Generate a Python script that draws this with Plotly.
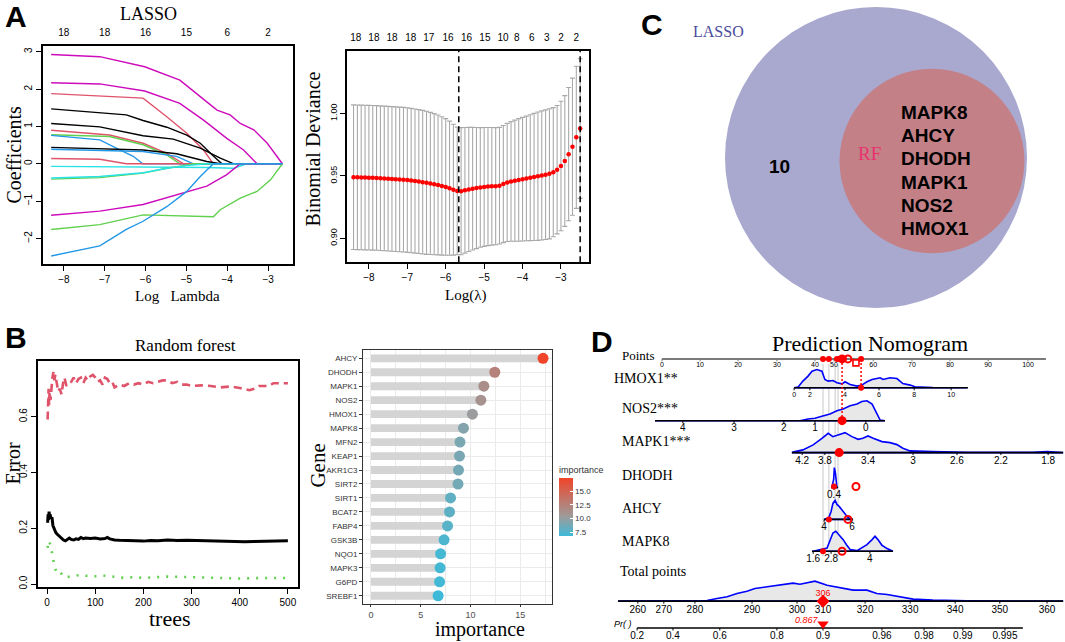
import plotly.graph_objects as go

W, H = 1065, 642
SERIF = "Liberation Serif, Times New Roman, serif"
SANS = "Liberation Sans, Arial, Helvetica, sans-serif"


def PX(x):
    return x / W


def PY(y):
    return 1 - y / H


# ================= Panel A (left): LASSO coefficient paths =================
LASSO_COLORS = ["#CD0BBC", "#CD0BBC", "#DF536B", "#000000", "#000000", "#DF536B",
                "#61D04F", "#2297E6", "#000000", "#2297E6", "#DF536B", "#28E2E5",
                "#61D04F", "#28E2E5", "#CD0BBC", "#61D04F", "#2297E6"]
LASSO_X = [
    [-8.31, -7.12, -6.02, -5.16, -4.66, -4.25, -3.93, -3.68, -3.35, -3.02, -2.65],
    [-8.31, -7.12, -6.02, -5.16, -4.58, -4.01, -3.60, -3.27, -2.65],
    [-8.31, -6.47, -6.06, -5.48, -4.99, -4.58, -4.34, -2.65],
    [-8.31, -6.47, -6.06, -5.48, -4.99, -4.66, -4.34, -4.13, -2.65],
    [-8.31, -7.12, -6.06, -5.32, -4.66, -4.17, -3.84, -2.65],
    [-8.31, -6.88, -6.06, -5.48, -5.07, -2.65],
    [-8.31, -6.88, -6.06, -5.48, -5.16, -2.65],
    [-8.31, -7.12, -6.63, -6.30, -6.07, -2.65],
    [-8.31, -6.06, -5.24, -4.50, -4.17, -2.65],
    [-8.31, -6.06, -5.24, -4.83, -2.65],
    [-8.31, -7.12, -6.47, -2.65],
    [-8.31, -6.00, -4.50, -3.84, -3.52, -2.65],
    [-8.31, -7.12, -6.06, -5.48, -5.07, -4.83, -2.65],
    [-8.31, -7.12, -6.06, -5.48, -4.99, -4.50, -2.65],
    [-8.31, -7.12, -6.06, -5.24, -4.50, -4.01, -3.68, -2.65],
    [-8.31, -7.12, -6.06, -5.24, -4.34, -4.17, -3.68, -3.27, -2.94, -2.65],
    [-8.31, -7.12, -6.47, -6.06, -5.48, -4.99, -4.66, -4.34, -2.65],
]
LASSO_Y = [
    [2.93, 2.87, 2.60, 2.24, 1.80, 1.44, 1.31, 1.08, 0.91, 0.55, 0.0],
    [2.17, 2.14, 1.95, 1.62, 1.17, 0.68, 0.37, 0.0, 0.0],
    [1.88, 1.78, 1.76, 1.26, 0.82, 0.37, 0.0, 0.0],
    [1.47, 1.31, 1.16, 0.98, 0.77, 0.55, 0.21, 0.0, 0.0],
    [1.08, 0.99, 0.75, 0.66, 0.42, 0.15, 0.0, 0.0],
    [0.90, 0.77, 0.55, 0.28, 0.0, 0.0],
    [0.78, 0.73, 0.51, 0.24, 0.0, 0.0],
    [0.76, 0.64, 0.37, 0.20, 0.0, 0.0],
    [0.44, 0.37, 0.27, 0.06, 0.0, 0.0],
    [0.39, 0.33, 0.20, 0.0, 0.0],
    [0.14, 0.12, 0.0, 0.0],
    [-0.07, -0.08, -0.10, -0.12, 0.0, 0.0],
    [-0.41, -0.37, -0.25, -0.12, -0.05, 0.0, 0.0],
    [-0.38, -0.34, -0.24, -0.12, -0.05, 0.0, 0.0],
    [-1.38, -1.27, -1.09, -0.83, -0.60, -0.29, 0.0, 0.0],
    [-1.76, -1.63, -1.37, -1.39, -1.42, -1.23, -0.92, -0.74, -0.43, 0.0],
    [-2.47, -2.20, -1.76, -1.54, -1.15, -0.74, -0.34, 0.0, 0.0],
]
LASSO_TICKS = [-8, -7, -6, -5, -4, -3]
LASSO_TOP_POS = [-8, -7, -6, -5, -4, -3]
LASSO_TOP_LAB = ["18", "18", "16", "15", "6", "2"]

# ================= Panel A (right): cross-validation =================
CV_LOGLAMBDA = [-8.4, -8.3, -8.2, -8.1, -8.0, -7.9, -7.8, -7.7, -7.6, -7.5,
                -7.4, -7.3, -7.2, -7.1, -7.0, -6.9, -6.8, -6.7, -6.6, -6.5,
                -6.4, -6.3, -6.2, -6.1, -6.0, -5.9, -5.8, -5.7, -5.6, -5.5,
                -5.4, -5.3, -5.2, -5.1, -5.0, -4.9, -4.8, -4.7, -4.6, -4.5,
                -4.4, -4.3, -4.2, -4.1, -4.0, -3.9, -3.8, -3.7, -3.6, -3.5,
                -3.4, -3.3, -3.2, -3.1, -3.0, -2.9, -2.8, -2.7, -2.6, -2.5]
CV_MEAN = [0.9490, 0.9489, 0.9488, 0.9487, 0.9486, 0.9485, 0.9484, 0.9482, 0.9480, 0.9478,
           0.9476, 0.9474, 0.9472, 0.9470, 0.9467, 0.9463, 0.9459, 0.9455, 0.9450, 0.9445,
           0.9440, 0.9434, 0.9428, 0.9420, 0.9412, 0.9402, 0.9390, 0.9380, 0.9378, 0.9385,
           0.9392, 0.9398, 0.9403, 0.9408, 0.9412, 0.9415, 0.9417, 0.9418, 0.9422, 0.9435,
           0.9448, 0.9456, 0.9462, 0.9468, 0.9474, 0.9480, 0.9486, 0.9492, 0.9498, 0.9504,
           0.9510, 0.9517, 0.9530, 0.9550, 0.9580, 0.9620, 0.9675, 0.9735, 0.9810, 0.9880]
CV_SE = [0.0580, 0.0580, 0.0580, 0.0580, 0.0580, 0.0580, 0.0580, 0.0580, 0.0580, 0.0580,
         0.0580, 0.0580, 0.0580, 0.0580, 0.0580, 0.0579, 0.0578, 0.0577, 0.0576, 0.0574,
         0.0570, 0.0566, 0.0561, 0.0555, 0.0548, 0.0538, 0.0525, 0.0512, 0.0510, 0.0504,
         0.0498, 0.0492, 0.0486, 0.0480, 0.0477, 0.0474, 0.0472, 0.0470, 0.0468, 0.0470,
         0.0474, 0.0480, 0.0486, 0.0492, 0.0496, 0.0500, 0.0505, 0.0510, 0.0515, 0.0518,
         0.0520, 0.0522, 0.0518, 0.0515, 0.0520, 0.0525, 0.0535, 0.0550, 0.0570, 0.0560]
CV_TICKS_X = [-8, -7, -6, -5, -4, -3]
CV_TICKS_Y = [0.90, 0.95, 1.00]
CV_TOP_POS = [-8.34, -7.87, -7.40, -6.91, -6.44, -5.94, -5.46, -4.98, -4.51, -4.15, -3.76, -3.37, -3.00, -2.60]
CV_TOP_LAB = ["18", "18", "18", "18", "17", "16", "16", "15", "10", "8", "6", "3", "2", "2"]
LAMBDA_MIN = -5.66
LAMBDA_1SE = -2.50

# ================= Panel B (left): random forest error =================
RF_TREES_OOB = [1, 2, 3, 4, 5, 6, 8, 10, 12, 14, 16, 18, 20, 23, 26, 30, 34, 38, 42, 46, 50, 55, 60,
                65, 70, 75, 80, 90, 100, 110, 120, 125, 130, 140, 150, 160, 175, 190, 200, 215,
                230, 250, 270, 290, 310, 330, 350, 370, 390, 410, 430, 450, 470, 490, 500]
RF_OOB = [0.22, 0.25, 0.23, 0.26, 0.24, 0.25, 0.235, 0.24, 0.21, 0.20, 0.195, 0.185, 0.18, 0.175,
          0.17, 0.165, 0.158, 0.155, 0.16, 0.165, 0.16, 0.158, 0.162, 0.16, 0.167, 0.163, 0.165,
          0.163, 0.165, 0.162, 0.163, 0.167, 0.162, 0.158, 0.157, 0.156, 0.157, 0.155, 0.154,
          0.156, 0.155, 0.158, 0.156, 0.157, 0.156, 0.155, 0.154, 0.153, 0.153, 0.152, 0.153,
          0.154, 0.155, 0.155, 0.155]
RF_TREES_C1 = [1, 2, 3, 4, 5, 7, 9, 11, 13, 15, 17, 20, 23, 26, 30, 33, 36, 40, 45, 50, 55, 60, 65,
               70, 75, 80, 85, 90, 95, 100, 105, 110, 115, 120, 125, 130, 135, 140, 150, 160, 170,
               180, 190, 200, 210, 220, 230, 240, 250, 260, 270, 280, 290, 300, 320, 340, 360, 380,
               400, 410, 420, 430, 440, 450, 460, 470, 480, 490, 500]
RF_C1 = [0.59, 0.66, 0.70, 0.64, 0.69, 0.66, 0.72, 0.74, 0.76, 0.73, 0.75, 0.71, 0.69, 0.70, 0.68,
         0.72, 0.74, 0.71, 0.72, 0.725, 0.74, 0.72, 0.735, 0.74, 0.72, 0.74, 0.73, 0.745, 0.75,
         0.74, 0.725, 0.73, 0.715, 0.74, 0.735, 0.72, 0.725, 0.705, 0.715, 0.71, 0.72, 0.715,
         0.72, 0.715, 0.725, 0.72, 0.725, 0.73, 0.73, 0.72, 0.725, 0.715, 0.715, 0.71, 0.712,
         0.71, 0.705, 0.708, 0.703, 0.70, 0.695, 0.70, 0.71, 0.71, 0.71, 0.72, 0.72, 0.72, 0.72]
RF_TREES_C2 = [1, 3, 5, 7, 9, 11, 13, 16, 19, 22, 26, 30, 35, 40, 50, 60, 70, 80, 90, 100, 120,
               140, 160, 180, 200, 250, 300, 350, 400, 450, 500]
RF_C2 = [0.13, 0.155, 0.15, 0.14, 0.125, 0.10, 0.08, 0.06, 0.045, 0.04, 0.045, 0.035, 0.025, 0.025,
         0.028, 0.03, 0.033, 0.03, 0.028, 0.028, 0.03, 0.025, 0.022, 0.025, 0.022, 0.027, 0.024,
         0.022, 0.02, 0.022, 0.022]
RF_TICKS_X = [0, 100, 200, 300, 400, 500]
RF_TICKS_Y = [0.0, 0.2, 0.4, 0.6]

# ================= Panel B (right): gene importance =================
GENES = ["AHCY", "DHODH", "MAPK1", "NOS2", "HMOX1", "MAPK8", "MFN2", "KEAP1", "AKR1C3",
         "SIRT2", "SIRT1", "BCAT2", "FABP4", "GSK3B", "NQO1", "MAPK3", "G6PD", "SREBF1"]
IMPORTANCE = [17.3, 12.45, 11.35, 11.05, 10.2, 9.3, 8.95, 8.9, 8.8, 8.75, 8.0, 7.9, 7.7, 7.35,
              7.0, 6.95, 6.9, 6.75]
IMP_TICKS = [0, 5, 10, 15]
IMP_CBAR_TICKS = [7.5, 10.0, 12.5, 15.0]

# ================= Panel C: Venn =================
VENN_LASSO_N = 16
VENN_RF_N = 6
VENN_ONLY_LASSO = "10"
VENN_SHARED = ["MAPK8", "AHCY", "DHODH", "MAPK1", "NOS2", "HMOX1"]

# ================= Panel D: nomogram =================
PTS_TICK_LAB = ["0", "10", "20", "30", "40", "50", "60", "70", "80", "90", "100"]
PTS_TICK_POS = [0, 10.4, 20.8, 31.4, 41.8, 47.0, 57.7, 68.3, 78.7, 89.1, 100]
HMOX1_TICK_LAB = ["0", "2", "4", "6", "8", "10"]
HMOX1_TICK_POS = [36.1, 40.4, 50.0, 59.3, 68.9, 79.0]
HMOX1_X = [36.1, 37.2, 38.5, 39.9, 41.0, 42.3, 43.7, 44.5, 45.4, 46.7, 47.8, 49.2, 50.0, 51.4,
           53.3, 54.6, 56.0, 57.4, 58.7, 59.6, 60.4, 62.3, 64.2, 65.8, 67.8, 69.1, 74.0, 83.3]
HMOX1_D = [0, 0.7, 6.7, 11.7, 16.7, 18.3, 16.7, 8.3, 6.7, 7.3, 5, 4, 6, 3.3, 1.7, 2.7, 6, 8.3,
           9.3, 10, 8.3, 10, 9.3, 4.3, 2.7, 1, 0.3, 0]
NOS2_TICK_LAB = ["4", "3", "2", "1", "0"]
NOS2_TICK_POS = [5.7, 19.7, 33.3, 41.8, 55.7]
NOS2_X = [-1.9, 37.7, 39.9, 41.8, 43.2, 45.9, 47.8, 49.5, 51.4, 53.3, 54.6, 56.0, 57.4, 58.7,
          59.6, 60.9]
NOS2_D = [0, 0, 1.7, 2.5, 4, 6.7, 10, 11.7, 15, 16.7, 19.3, 20, 16.7, 6.7, 0.7, 0]
MAPK1_TICK_LAB = ["4.2", "3.8", "3.4", "3", "2.6", "2.2", "1.8"]
MAPK1_TICK_POS = [38.3, 44.5, 56.3, 68.6, 80.6, 92.6, 105.5]
MAPK1_X = [35.5, 35.8, 38.5, 41.3, 43.7, 45.4, 46.7, 48.6, 50.0, 51.9, 53.6, 54.9, 56.3, 57.7,
           60.1, 62.3, 64.2, 65.8, 67.8, 74.0, 83.3, 101.4, 105.2, 109.6]
MAPK1_D = [0, 0.7, 2.7, 7.7, 14.3, 19.3, 16, 18.7, 20, 16, 13.3, 14.3, 16.7, 14.3, 11, 10, 8,
           4.3, 1.7, 1, 0.3, 0.3, 1, 0]
DHODH_TICK_LAB = ["0.4"]
DHODH_TICK_POS = [47.0]
DHODH_X = [46.2, 46.4, 46.9, 47.1, 47.4, 47.7, 47.8, 48.1]
DHODH_D = [0, 0, 8, 20, 14, 2, 0, 0]
AHCY_TICK_LAB = ["4", "6"]
AHCY_TICK_POS = [44.3, 51.9]
AHCY_X = [44.3, 45.6, 46.2, 46.7, 47.3, 47.8, 48.4, 49.2, 50.0, 50.8, 51.9, 52.2]
AHCY_D = [0, 2, 8, 16, 19, 15, 13, 9, 5, 2, 0, 0]
MAPK8_TICK_LAB = ["1.6", "2.8", "4"]
MAPK8_TICK_POS = [41.3, 46.2, 56.8]
MAPK8_X = [41.0, 41.3, 45.1, 45.9, 46.7, 47.5, 48.6, 49.5, 50.5, 51.4, 53.3, 54.6, 56.0, 57.4,
           58.2, 59.0, 60.1, 61.5, 63.1]
MAPK8_D = [0, 0, 3.3, 10, 18.3, 20, 16, 11.7, 6, 1.7, 0.7, 4, 6.7, 11.7, 15, 11.7, 6, 2.7, 0.3]
TOTAL_TICK_LAB = ["260", "270", "280", "290", "300", "310", "320", "330", "340", "350", "360"]
TOTAL_TICK_POS = [-6.6, 0.5, 9.0, 24.6, 36.9, 44.0, 55.5, 67.8, 80.1, 92.3, 105.2]
TOTAL_X = [-12.0, -3.3, 3.0, 12.3, 15.0, 17.8, 20.5, 23.2, 25.4, 28.7, 32.2, 35.8, 37.7, 40.4,
           41.8, 45.1, 48.6, 52.2, 56.0, 58.7, 61.5, 65.0, 68.6, 74.0, 83.3, 101.4, 109.6]
TOTAL_D = [0, 0, 0.7, 0.7, 2.7, 4.3, 7.7, 10, 12.7, 14.3, 16, 18, 17, 19.3, 20, 16, 13.7, 11, 11,
           7.7, 6.7, 4.3, 2, 1, 0.3, 0, 0]
PR_TICK_LAB = ["0.2", "0.4", "0.6", "0.8", "0.9", "0.96", "0.98", "0.99", "0.995"]
PR_TICK_POS = [-6.8, 3.0, 15.8, 31.4, 44.0, 60.1, 71.6, 82.2, 93.7]
# observed case (red)
CASE_PTS_DOTS = [44.0, 45.6, 47.8, 48.6, 49.7, 54.4]
CASE_HMOX1 = 54.4
CASE_NOS2 = 49.2
CASE_MAPK1 = 48.4
CASE_DHODH = 47.0
CASE_AHCY = 45.6
CASE_MAPK8 = 44.0
CASE_OPEN = [50.8, 53.0, 50.8, 49.2]
CASE_TOTAL = 44.0
CASE_TOTAL_LAB = "306"
CASE_PR_LAB = "0.867"
GUIDE_LINES = [44.0, 45.6, 47.3, 48.1]

# ---------------- figure ----------------
fig = go.Figure()
NOHOVER = dict(hoverinfo="skip", showlegend=False)

# A-left
for c, xs, ys in zip(LASSO_COLORS, LASSO_X, LASSO_Y):
    fig.add_trace(go.Scatter(x=xs, y=ys, mode="lines", line=dict(color=c, width=1.4),
                             xaxis="x", yaxis="y", **NOHOVER))
fig.add_trace(go.Scatter(x=[-8], y=[0], mode="markers", marker=dict(opacity=0),
                         xaxis="x2", yaxis="y", **NOHOVER))

# A-right
fig.add_trace(go.Scatter(x=CV_LOGLAMBDA, y=CV_MEAN, mode="markers",
                         marker=dict(color="#FF0000", size=4.5),
                         error_y=dict(type="data", array=CV_SE, color="#A9A9A9",
                                      thickness=1.1, width=2.5),
                         xaxis="x3", yaxis="y3", **NOHOVER))
fig.add_trace(go.Scatter(x=[-8], y=[0.95], mode="markers", marker=dict(opacity=0),
                         xaxis="x4", yaxis="y3", **NOHOVER))

# B-left
fig.add_trace(go.Scatter(x=RF_TREES_OOB, y=RF_OOB, mode="lines",
                         line=dict(color="black", width=3), xaxis="x5", yaxis="y5", **NOHOVER))
fig.add_trace(go.Scatter(x=RF_TREES_C1, y=RF_C1, mode="lines",
                         line=dict(color="#DF536B", width=2.6, dash="8px,5px"),
                         xaxis="x5", yaxis="y5", **NOHOVER))
fig.add_trace(go.Scatter(x=RF_TREES_C2, y=RF_C2, mode="lines",
                         line=dict(color="#61D04F", width=2.6, dash="2px,7px"),
                         xaxis="x5", yaxis="y5", **NOHOVER))

# B-right
fig.add_trace(go.Bar(x=IMPORTANCE, y=GENES, orientation="h", width=0.56,
                     marker=dict(color="#D4D4D4", line=dict(width=0)),
                     xaxis="x6", yaxis="y6", **NOHOVER))
fig.add_trace(go.Scatter(
    x=IMPORTANCE, y=GENES, mode="markers", xaxis="x6", yaxis="y6",
    marker=dict(size=11, color=IMPORTANCE, cmin=min(IMPORTANCE), cmax=max(IMPORTANCE),
                colorscale=[[0, "#3EBAD8"], [0.33, "#9C9C9C"], [1, "#F0452A"]],
                colorbar=dict(x=PX(559), xanchor="left", y=PY(501.5), yanchor="middle",
                              len=73 / H, thickness=14, outlinewidth=0, xpad=0, ypad=0,
                              tickvals=IMP_CBAR_TICKS, ticktext=[f"{v:.1f}" for v in IMP_CBAR_TICKS],
                              ticks="inside", tickcolor="white", ticklen=3,
                              tickfont=dict(family=SANS, size=8, color="#333333"),
                              title=dict(text="importance", side="top",
                                         font=dict(family=SANS, size=9, color="#333333")))),
    **NOHOVER))

# D: nomogram
ROW_Y = {"points": 360, "HMOX1": 389, "NOS2": 422, "MAPK1": 454, "DHODH": 489,
         "AHCY": 521, "MAPK8": 553, "total": 603, "pr": 630}


def dtr(**kw):
    fig.add_trace(go.Scatter(xaxis="x8", yaxis="y8", **NOHOVER, **kw))


# grey guide lines
gx, gy = [], []
for g in GUIDE_LINES:
    gx += [g, g, None]
    gy += [365, 558, None]
dtr(x=gx, y=gy, mode="lines", line=dict(color="#C8C8C8", width=1))


def density(xs, ds, base):
    ys = [base - d for d in ds]
    dtr(x=xs + [xs[-1], xs[0]], y=ys + [base, base], mode="lines", fill="toself",
        fillcolor="#E8E8E8", line=dict(color="#0000FF", width=1.6))


def row_axis(x0, x1, base, tpos, tlab, fs, off, color="black", lw=1.6):
    dtr(x=[x0, x1], y=[base, base], mode="lines", line=dict(color=color, width=lw))
    tx, ty = [], []
    for t in tpos:
        tx += [t, t, None]
        ty += [base, base + 2.5, None]
    dtr(x=tx, y=ty, mode="lines", line=dict(color=color, width=1))
    dtr(x=tpos, y=[base + off] * len(tpos), mode="text", text=tlab,
        textfont=dict(family=SANS, size=fs, color="black"))


density(HMOX1_X, HMOX1_D, ROW_Y["HMOX1"])
density(NOS2_X, NOS2_D, ROW_Y["NOS2"])
density(MAPK1_X, MAPK1_D, ROW_Y["MAPK1"])
density(DHODH_X, DHODH_D, ROW_Y["DHODH"])
density(AHCY_X, AHCY_D, ROW_Y["AHCY"])
density(MAPK8_X, MAPK8_D, ROW_Y["MAPK8"])
density(TOTAL_X, TOTAL_D, ROW_Y["total"])

row_axis(0, 104.9, ROW_Y["points"], PTS_TICK_POS, PTS_TICK_LAB, 7, 6.5, color="#7A7A7A", lw=2)
row_axis(36.1, 83.6, ROW_Y["HMOX1"], HMOX1_TICK_POS, HMOX1_TICK_LAB, 7, 7)
row_axis(-1.9, 60.9, ROW_Y["NOS2"], NOS2_TICK_POS, NOS2_TICK_LAB, 10, 7.5)
row_axis(35.5, 109.6, ROW_Y["MAPK1"], MAPK1_TICK_POS, MAPK1_TICK_LAB, 10, 9)
row_axis(46.2, 48.1, ROW_Y["DHODH"], DHODH_TICK_POS, DHODH_TICK_LAB, 10, 8)
row_axis(44.3, 52.2, ROW_Y["AHCY"], AHCY_TICK_POS, AHCY_TICK_LAB, 10, 8)
row_axis(41.0, 63.1, ROW_Y["MAPK8"], MAPK8_TICK_POS, MAPK8_TICK_LAB, 10, 8)
row_axis(-12.0, 109.6, ROW_Y["total"], TOTAL_TICK_POS, TOTAL_TICK_LAB, 10, 9.5)
row_axis(-6.8, 98.6, ROW_Y["pr"], PR_TICK_POS, PR_TICK_LAB, 10, 8.5)

# red case markers
dtr(x=[CASE_NOS2, CASE_NOS2, None, CASE_HMOX1, CASE_HMOX1],
    y=[ROW_Y["points"], ROW_Y["NOS2"], None, ROW_Y["points"], ROW_Y["HMOX1"]],
    mode="lines", line=dict(color="#FF0000", width=1.5, dash="2px,2px"))
dtr(x=CASE_PTS_DOTS, y=[ROW_Y["points"]] * len(CASE_PTS_DOTS), mode="markers",
    marker=dict(color="#FF0000", size=6))
dtr(x=[CASE_NOS2], y=[ROW_Y["points"]], mode="markers", marker=dict(color="#FF0000", size=9))
dtr(x=[CASE_HMOX1, CASE_DHODH, CASE_AHCY, CASE_MAPK8],
    y=[ROW_Y["HMOX1"], ROW_Y["DHODH"] - 1, ROW_Y["AHCY"], ROW_Y["MAPK8"]],
    mode="markers", marker=dict(color="#FF0000", size=6))
dtr(x=[CASE_NOS2, CASE_MAPK1], y=[ROW_Y["NOS2"], ROW_Y["MAPK1"]], mode="markers",
    marker=dict(color="#FF0000", size=9))
dtr(x=CASE_OPEN, y=[ROW_Y["points"], ROW_Y["DHODH"] - 1, ROW_Y["AHCY"], ROW_Y["MAPK8"]],
    mode="markers", marker=dict(symbol="circle-open", color="#FF0000", size=7,
                                line=dict(width=2, color="#FF0000")))
dtr(x=[53.0], y=[ROW_Y["points"] + 4], mode="markers",
    marker=dict(symbol="square-open", color="#FF0000", size=6, line=dict(width=1.6, color="#FF0000")))
dtr(x=[CASE_TOTAL], y=[ROW_Y["total"]], mode="markers",
    marker=dict(symbol="diamond", color="#FF0000", size=10))
dtr(x=[CASE_TOTAL], y=[ROW_Y["total"] - 7], mode="text", text=[CASE_TOTAL_LAB],
    textfont=dict(family=SANS, size=9, color="#FF0000"))
dtr(x=[CASE_TOTAL], y=[ROW_Y["pr"] - 4], mode="markers",
    marker=dict(symbol="triangle-down", color="#FF0000", size=10))
dtr(x=[CASE_TOTAL - 1.5], y=[ROW_Y["pr"] - 7], mode="text", text=["<i>" + CASE_PR_LAB + "</i>"],
    textposition="middle left", textfont=dict(family=SANS, size=9, color="#FF0000"))

# ---------------- axes ----------------


def rax(domain, rng, tickvals, anchor, angle=0, size=10, ticktext=None):
    d = dict(domain=domain, range=rng, tickvals=tickvals, ticks="outside", ticklen=5,
             tickwidth=1, tickcolor="black", showline=True, mirror=True, linecolor="black",
             linewidth=1.5, showgrid=False, zeroline=False, anchor=anchor, tickangle=angle,
             tickfont=dict(family=SANS, size=size, color="black"))
    if ticktext is not None:
        d["ticktext"] = ticktext
    return d


def topax(over, rng, pos, lab):
    return dict(overlaying=over, side="top", range=rng, tickvals=pos, ticktext=lab,
                ticks="", showline=False, showgrid=False, zeroline=False,
                ticklabelstandoff=7, tickfont=dict(family=SANS, size=10, color="black"))


rng_a1 = [-8.51, -2.39]
rng_a2 = [-8.57, -2.27]
layout = dict(
    width=W, height=H, margin=dict(l=0, r=0, t=0, b=0),
    paper_bgcolor="white", plot_bgcolor="rgba(0,0,0,0)", showlegend=False,
    xaxis=rax([PX(43), PX(293)], rng_a1, LASSO_TICKS, "y"),
    yaxis=rax([PY(265), PY(46)], [-2.69, 3.16], [-2, -1, 0, 1, 2, 3], "x", angle=-90),
    xaxis2=dict(anchor="y", **topax("x", rng_a1, LASSO_TOP_POS, LASSO_TOP_LAB)),
    xaxis3=rax([PX(347), PX(589)], rng_a2, CV_TICKS_X, "y3"),
    yaxis3=rax([PY(263), PY(51)], [0.8808, 1.0504], CV_TICKS_Y, "x3", angle=-90, size=9,
               ticktext=["0.90", "0.95", "1.00"]),
    xaxis4=dict(anchor="y3", **topax("x3", rng_a2, CV_TOP_POS, CV_TOP_LAB)),
    xaxis5=rax([PX(38), PX(298)], [-19, 521], RF_TICKS_X, "y5"),
    yaxis5=rax([PY(589), PY(362)], [-0.011, 0.8], RF_TICKS_Y, "x5", angle=-90,
               ticktext=["0.0", "0.2", "0.4", "0.6"]),
    xaxis6=dict(domain=[PX(363), PX(552)], range=[-0.8, 18.2], anchor="y6",
                tickvals=IMP_TICKS, ticks="outside", ticklen=2, tickcolor="#333333",
                showline=True, mirror=True, linecolor="#333333", linewidth=1,
                showgrid=True, gridcolor="#EBEBEB", gridwidth=1, zeroline=False,
                minor=dict(tickvals=[2.5, 7.5, 12.5, 17.5], showgrid=True, gridcolor="#EBEBEB"),
                tickfont=dict(family=SANS, size=9, color="#4D4D4D")),
    yaxis6=dict(domain=[PY(606), PY(351)], range=[len(GENES) - 0.4, -0.6], anchor="x6",
                type="category", categoryorder="array", categoryarray=GENES,
                ticks="outside", ticklen=3, tickcolor="#333333", showline=True, mirror=True,
                linecolor="#333333", linewidth=1, showgrid=True, gridcolor="#EBEBEB",
                zeroline=False, tickfont=dict(family=SANS, size=8, color="#333333")),
    xaxis7=dict(domain=[PX(600), 1.0], range=[600, 1065], anchor="y7", visible=False),
    yaxis7=dict(domain=[PY(330), 1.0], range=[330, 0], anchor="x7", visible=False),
    xaxis8=dict(domain=[PX(590), 1.0], range=[-19.67, 110.11], anchor="y8", visible=False),
    yaxis8=dict(domain=[0, PY(335)], range=[642, 335], anchor="x8", visible=False),
)
fig.update_layout(**layout)

# dashed lambda lines
for lx in (LAMBDA_MIN, LAMBDA_1SE):
    fig.add_shape(type="line", xref="x3", yref="y3 domain", x0=lx, x1=lx, y0=0, y1=1,
                  line=dict(color="black", width=1.5, dash="6px,4px"))

# Venn circles (radius proportional to sqrt of set size)
K = 151 / VENN_LASSO_N ** 0.5
r_l, r_r = K * VENN_LASSO_N ** 0.5, K * VENN_RF_N ** 0.5
cl, cr = (876, 158), (932, 161.5)
fig.add_shape(type="circle", xref="x7", yref="y7", x0=cl[0] - r_l, x1=cl[0] + r_l,
              y0=cl[1] - r_l, y1=cl[1] + r_l, fillcolor="#A9A9CF", line=dict(width=0),
              layer="below")
fig.add_shape(type="circle", xref="x7", yref="y7", x0=cr[0] - r_r, x1=cr[0] + r_r,
              y0=cr[1] - r_r, y1=cr[1] + r_r, fillcolor="#C48087", line=dict(width=0),
              layer="below")

# ---------------- annotations ----------------
ann = []


def A(text, x, y, size, family=SERIF, color="black", angle=0, xanchor="center", bold=False,
      italic=False):
    if bold:
        text = "<b>" + text + "</b>"
    if italic:
        text = "<i>" + text + "</i>"
    ann.append(dict(text=text, x=PX(x), y=PY(y), xref="paper", yref="paper", showarrow=False,
                    xanchor=xanchor, yanchor="middle", textangle=angle,
                    font=dict(family=family, size=size, color=color)))


for letter, x, y in (("A", 16, 17), ("B", 16, 339), ("C", 652, 25), ("D", 602, 343)):
    A(letter, x, y, 30, family=SANS, bold=True)

A("LASSO", 148, 14, 18)
A("Coefficients", 14, 155, 20, angle=-90)
A("Log   Lambda", 177, 297, 15)
A("Binomial Deviance", 313, 150, 20, angle=-90)
A("Log(λ)", 465, 296, 15)
A("Random forest", 185, 347, 17)
A("Error", 13, 465, 20, angle=-90)
A("trees", 170, 620, 22)
A("Gene", 318, 467, 21, angle=-90)
A("importance", 480, 631, 20)

A("LASSO", 718, 32, 16, color="#4B4B9B")
A("RF", 869, 154, 19, color="#E8336F")
A(VENN_ONLY_LASSO, 779, 167, 19, family=SANS, bold=True)
for i, g in enumerate(VENN_SHARED):
    A(g, 899, 113 + i * 23.2, 19, family=SANS, bold=True, xanchor="left")

A("Prediction Nomogram", 870, 345, 22)
A("Points", 657, 357, 13, xanchor="right")
A("HMOX1**", 612, 380, 14, xanchor="left")
A("NOS2***", 620, 410, 14, xanchor="left")
A("MAPK1***", 620, 443, 14, xanchor="left")
A("DHODH", 620, 477, 14, xanchor="left")
A("AHCY", 620, 510, 14, xanchor="left")
A("MAPK8", 620, 543, 14, xanchor="left")
A("Total points", 618, 573, 14, xanchor="left")
A("Pr( )", 612, 626, 9, family=SANS, xanchor="left", italic=True)

fig.update_layout(annotations=ann)

fig.write_html("out.html", config={"displayModeBar": False},
               post_script="document.body.style.margin='0';document.body.style.overflow='hidden';")
